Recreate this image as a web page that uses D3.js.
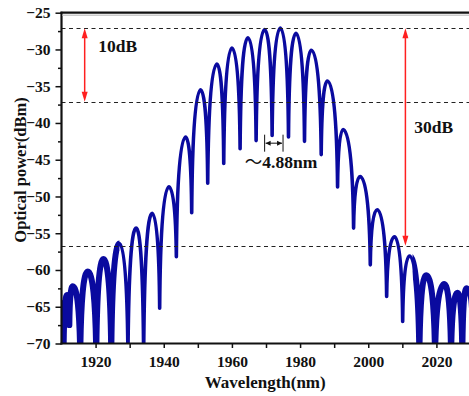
<!DOCTYPE html>
<html lang="en">
<head>
    <meta charset="UTF-8">
    <title>Optical spectrum</title>
    <script src="https://d3js.org/d3.v7.min.js"></script>
    <style>
        body, html {
            margin: 0;
            background: #fff;
        }
        text {
            font-family: "Times New Roman", "Liberation Serif", serif;
            font-weight: bold;
            fill: #111;
        }
    </style>
</head>
<body>
    <div id="chart"></div>

    <script>
        // Spectrum: alternating dips and fringe peaks
        const wavelength = [
            1909.8, 1910.6, 1911.6, 1912.3, 1913.3, 1915.5, 1917.7, 1920.2, 1922.3, 1924.6,
            1927.0, 1929.5, 1931.9, 1934.1, 1936.6, 1938.8, 1941.5, 1943.7, 1946.4, 1948.2,
            1950.8, 1952.9, 1955.6, 1957.6, 1960.0, 1962.4, 1964.7, 1967.1, 1969.6, 1971.8,
            1974.2, 1976.6, 1978.8, 1981.3, 1983.3, 1986.2, 1988.0, 1991.0, 1992.6, 1995.7,
            1997.6, 2000.6, 2002.6, 2005.4, 2007.7, 2010.1, 2012.1, 2015.0, 2017.0, 2019.6,
            2022.3, 2024.3, 2026.2, 2027.6, 2028.8, 2030.5
        ];
        const power = [
            -64.5, -72, -63.4, -67.5, -62.2, -72, -60.2, -72, -58.5, -72,
            -56.4, -72, -54.3, -72, -52.3, -65.2, -48.7, -58.2, -41.9, -52.2,
            -35.5, -48.2, -32.0, -45.5, -29.8, -43.5, -28.4, -42.4, -27.3, -41.7,
            -27.1, -41.9, -27.8, -42.5, -30.1, -44.3, -34.3, -48.7, -40.9, -54.3,
            -47.3, -59.3, -51.8, -63.6, -55.5, -67.0, -58.1, -72, -60.7, -72,
            -61.9, -72, -63.1, -72, -62.5, -66
        ];

        const xTicks = [1920, 1930, 1940, 1950, 1960, 1970, 1980, 1990, 2000, 2010, 2020];
        const yTicks = [-70, -65, -60, -55, -50, -45, -40, -35, -30, -25];
        const yMinor = [-67.5, -62.5, -57.5, -52.5, -47.5, -42.5, -37.5, -32.5, -27.5];

        // dashed reference levels and the two dB arrows
        const refLevels = [-27.1, -37.1, -56.7];
        const arrows = [
            { wl: 1916.8, top: -27.1, bottom: -37.1, label: "10dB", labelWl: 1920.8, labelDb: -30.4 },
            { wl: 2010.9, top: -27.1, bottom: -56.7, label: "30dB", labelWl: 2013.5, labelDb: -41.4 }
        ];
        const fsr = { from: 1969.6, to: 1975.0, level: -42.75, label: "4.88nm", labelWl: 1963.8, labelDb: -46.15 };

        const width = 469, height = 396;
        const margin = { top: 12.7, right: -1.5, bottom: 52.5, left: 61.5 };

        const svg = d3.select("#chart").append("svg")
            .attr("width", width)
            .attr("height", height);

        const x = d3.scaleLinear().domain([1910, 2030]).range([margin.left, width - margin.right]);
        const y = d3.scaleLinear().domain([-70, -25]).range([height - margin.bottom, margin.top]);

        svg.append("clipPath").attr("id", "plot")
            .append("rect")
            .attr("x", x(1910)).attr("y", y(-25))
            .attr("width", x(2030) - x(1910)).attr("height", y(-70) - y(-25));

        // thicker band for the noisy tails
        const tails = svg.append("clipPath").attr("id", "tails");
        [[1910, 1927], [2013, 2030]].forEach(r => {
            tails.append("rect")
                .attr("x", x(r[0])).attr("y", y(-25))
                .attr("width", x(r[1]) - x(r[0])).attr("height", y(-70) - y(-25));
        });

        // curve: steep into the dips, rounded over the peaks
        function fringe(context) {
            let pts = [];
            return {
                areaStart() {}, areaEnd() {},
                lineStart() { pts = []; },
                point(px, py) { pts.push([px, py]); },
                lineEnd() {
                    context.moveTo(pts[0][0], pts[0][1]);
                    for (let i = 1; i < pts.length; i++) {
                        const a = pts[i - 1], b = pts[i];
                        const dx = b[0] - a[0];
                        if (b[1] < a[1]) {
                            context.bezierCurveTo(a[0] + 0.07 * dx, a[1] + 0.68 * (b[1] - a[1]),
                                b[0] - 0.55 * dx, b[1], b[0], b[1]);
                        } else {
                            context.bezierCurveTo(a[0] + 0.55 * dx, a[1],
                                b[0] - 0.07 * dx, b[1] + 0.68 * (a[1] - b[1]), b[0], b[1]);
                        }
                    }
                }
            };
        }

        const line = d3.line()
            .x(i => x(wavelength[i]))
            .y(i => y(power[i]))
            .curve(fringe);
        const idx = d3.range(wavelength.length);

        const plot = svg.append("g").attr("clip-path", "url(#plot)");

        plot.append("path")
            .attr("d", line(idx))
            .attr("fill", "none")
            .attr("stroke", "#0a0a9f")
            .attr("stroke-width", 3.6)
            .attr("stroke-linejoin", "round");

        plot.append("g").attr("clip-path", "url(#tails)")
            .append("path")
            .attr("d", line(idx))
            .attr("fill", "none")
            .attr("stroke", "#0a0a9f")
            .attr("stroke-width", 6)
            .attr("stroke-linejoin", "round");

        // dashed reference lines
        svg.append("g")
            .selectAll("line")
            .data(refLevels)
            .join("line")
            .attr("x1", x(1910)).attr("x2", width)
            .attr("y1", d => Math.round(y(d)) + 0.5).attr("y2", d => Math.round(y(d)) + 0.5)
            .attr("stroke", "#222")
            .attr("stroke-width", 1)
            .attr("stroke-dasharray", "4,3.5");

        // red dB arrows
        const red = "#ff2020";
        const arr = svg.append("g");
        arrows.forEach(a => {
            const ax = x(a.wl), y0 = y(a.top), y1 = y(a.bottom);
            arr.append("line")
                .attr("x1", ax).attr("x2", ax)
                .attr("y1", y0 + 6).attr("y2", y1 - 6)
                .attr("stroke", red).attr("stroke-width", 1.5);
            arr.append("path")
                .attr("d", `M${ax},${y0} L${ax - 3},${y0 + 10} L${ax + 3},${y0 + 10} Z`)
                .attr("fill", red);
            arr.append("path")
                .attr("d", `M${ax},${y1} L${ax - 3},${y1 - 10} L${ax + 3},${y1 - 10} Z`)
                .attr("fill", red);
            arr.append("text")
                .attr("x", x(a.labelWl)).attr("y", y(a.labelDb))
                .attr("font-size", 17.5)
                .text(a.label);
        });

        // fringe spacing marker
        const m = svg.append("g").attr("stroke", "#111").attr("stroke-width", 1);
        [fsr.from, fsr.to].forEach(w => {
            m.append("line")
                .attr("x1", x(w)).attr("x2", x(w))
                .attr("y1", y(fsr.level) - 8.5).attr("y2", y(fsr.level) + 8.5);
        });
        m.append("line")
            .attr("x1", x(fsr.from) + 1).attr("x2", x(fsr.to) - 1)
            .attr("y1", y(fsr.level)).attr("y2", y(fsr.level));
        [[fsr.from, 1], [fsr.to, -1]].forEach(([w, s]) => {
            m.append("path")
                .attr("stroke", "none").attr("fill", "#111")
                .attr("d", `M${x(w) + s},${y(fsr.level)} l${s * 5},-2.5 l0,5 Z`);
        });
        const fsrText = svg.append("text")
            .attr("x", x(fsr.labelWl)).attr("y", y(fsr.labelDb))
            .attr("font-size", 17.5);
        fsrText.append("tspan")
            .attr("font-family", "'Noto Sans CJK SC', sans-serif")
            .attr("font-weight", "normal")
            .text("～");
        fsrText.append("tspan").text(fsr.label);

        // axes
        const xAxis = svg.append("g")
            .attr("transform", `translate(0,${y(-70)})`)
            .call(d3.axisBottom(x).tickValues(xTicks).tickSize(4.5).tickSizeOuter(0)
                .tickFormat(d => d % 20 === 0 ? d : ""));
        xAxis.select(".domain").remove();
        xAxis.selectAll(".tick line").attr("stroke", "#111").attr("stroke-width", 1.5);
        xAxis.selectAll(".tick text").attr("dy", "1em").attr("font-size", 15.5)
            .attr("font-family", null).attr("fill", "#111");

        const yAxis = svg.append("g")
            .attr("transform", `translate(${x(1910)},0)`)
            .call(d3.axisLeft(y).tickValues(yTicks).tickSize(6).tickSizeOuter(0).tickPadding(5));
        yAxis.select(".domain").remove();
        yAxis.selectAll(".tick line").attr("stroke", "#111").attr("stroke-width", 1.5);
        yAxis.selectAll(".tick text").attr("font-size", 15.5).attr("font-family", null).attr("fill", "#111");

        const yMinorAxis = svg.append("g")
            .attr("transform", `translate(${x(1910)},0)`)
            .call(d3.axisLeft(y).tickValues(yMinor).tickSize(3.5).tickSizeOuter(0).tickFormat(""));
        yMinorAxis.select(".domain").remove();
        yMinorAxis.selectAll(".tick line").attr("stroke", "#111").attr("stroke-width", 1.5);

        // frame lines
        svg.append("line")
            .attr("x1", x(1910) - 1).attr("x2", width)
            .attr("y1", y(-70)).attr("y2", y(-70))
            .attr("stroke", "#111").attr("stroke-width", 2.2);
        svg.append("line")
            .attr("x1", x(1910)).attr("x2", x(1910))
            .attr("y1", y(-25) - 1).attr("y2", y(-70) + 1)
            .attr("stroke", "#111").attr("stroke-width", 2.2);
        svg.append("line")
            .attr("x1", x(1910) - 1).attr("x2", width)
            .attr("y1", y(-25)).attr("y2", y(-25))
            .attr("stroke", "#111").attr("stroke-width", 2.2);
        svg.append("line")
            .attr("x1", x(1910) + 1).attr("x2", width)
            .attr("y1", y(-25) + 2.6).attr("y2", y(-25) + 2.6)
            .attr("stroke", "#ccc").attr("stroke-width", 1.5);

        // axis titles
        svg.append("text")
            .attr("x", (x(1910) + width) / 2).attr("y", 388)
            .attr("text-anchor", "middle")
            .attr("font-size", 17)
            .text("Wavelength(nm)");
        svg.append("text")
            .attr("transform", "translate(26,170) rotate(-90)")
            .attr("text-anchor", "middle")
            .attr("font-size", 16.5)
            .text("Optical power(dBm)");
    </script>
</body>
</html>
